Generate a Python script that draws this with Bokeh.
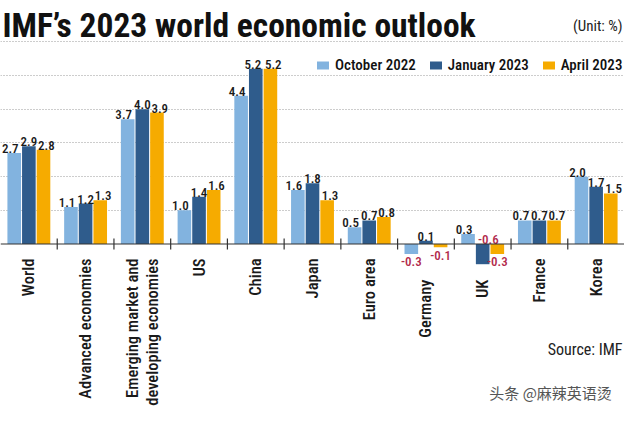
import numpy as np
from bokeh.plotting import figure
from bokeh.models import (Range1d, Grid, FixedTicker, ColumnDataSource, Label,
                          Legend, LegendItem, Span)
from bokeh.embed import file_html
from bokeh.resources import INLINE
from bokeh.core.properties import value

# ---------------- data ----------------
categories = ["World", "Advanced economies",
              "Emerging market and\ndeveloping economies", "US", "China",
              "Japan", "Euro area", "Germany", "UK", "France", "Korea"]
oct_2022 = [2.7, 1.1, 3.7, 1.0, 4.4, 1.6, 0.5, -0.3, 0.3, 0.7, 2.0]
jan_2023 = [2.9, 1.2, 4.0, 1.4, 5.2, 1.8, 0.7, 0.1, -0.6, 0.7, 1.7]
apr_2023 = [2.8, 1.3, 3.9, 1.6, 5.2, 1.3, 0.8, -0.1, -0.3, 0.7, 1.5]
series_names = ["October 2022", "January 2023", "April 2023"]
grid_ticks = [1, 2, 3, 4, 5, 6]

# ---------------- style ----------------
FONT = "Roboto Condensed, DejaVu Sans Condensed, Roboto, sans-serif"
FONT_MED = "Roboto Condensed Medium, Roboto Condensed, Roboto, sans-serif"
CJK = "Noto Sans CJK SC"
colors = ["#82b3df", "#2f5c8c", "#f6ab00"]
neg_color = "#b22a4c"
ink = "#1a1a1a"

W, H = 624, 410
REF_W, REF_H = 640, 426
BASE_PX, UNIT_PX = 253.0, 35.0

n = len(categories)


def fx(px):
    return px * n / REF_W


def fy(py):
    return (BASE_PX - py) / UNIT_PX


p = figure(width=W, height=H, x_range=Range1d(0, n),
           y_range=Range1d(fy(REF_H), fy(0)), title=None,
           x_axis_type=None, y_axis_type=None, toolbar_location=None,
           output_backend="svg", min_border=0, outline_line_color=None,
           background_fill_color="white", border_fill_color="white")

p.add_layout(Grid(dimension=1, ticker=FixedTicker(ticks=grid_ticks),
                  grid_line_color="#9a9a9a", grid_line_dash="1 2",
                  grid_line_width=1))

centers = np.arange(n) + 0.5
offsets = [-0.258, 0.0, 0.258]
label_shift = [-0.07, 0.0, 0.05]
# label nudges where neighbouring labels would collide: (category, series) -> dx
nudges = {("China", 1): -0.05}
series = [oct_2022, jan_2023, apr_2023]

renderers = []
lx, ly, lt, lc, lb = [], [], [], [], []
for si, (vals, off, sh, col) in enumerate(zip(series, offsets, label_shift, colors)):
    src = ColumnDataSource(dict(x=centers + off, top=vals))
    r = p.vbar(x="x", top="top", bottom=0, width=0.24, source=src,
               fill_color=col, line_color=None)
    renderers.append(r)
    for cat, c, v in zip(categories, centers, vals):
        if v >= 0:
            lx.append(c + off + sh + nudges.get((cat, si), 0.0))
            ly.append(v)
            lb.append("bottom")
            lc.append(ink)
        else:
            lx.append(c + off)
            ly.append(v - 0.1)
            lb.append("top")
            lc.append(neg_color)
        lt.append(f"{v:.1f}")

# UK January label sits above the axis, to the right of its bar
uk = categories.index("UK")
k = 1 * n + uk
lx[k] = centers[uk] + offsets[1] + 0.1
ly[k] = 0.0
lb[k] = "bottom"

for base in ["bottom", "top"]:
    idx = [i for i, b in enumerate(lb) if b == base]
    s = ColumnDataSource(dict(x=[lx[i] for i in idx], y=[ly[i] for i in idx],
                              text=[lt[i] for i in idx], color=[lc[i] for i in idx]))
    p.text(x="x", y="y", text="text", source=s, text_color="color",
           text_align="center", text_baseline=base,
           text_font=value(FONT_MED), text_font_size="13px")

# baseline and group separators
p.add_layout(Span(location=0, dimension="width", line_color="#333333",
                  line_width=1.2))
bounds = np.arange(1, n)
p.segment(x0=bounds, y0=0.16, x1=bounds, y1=-0.16, line_color="#333333",
          line_width=1.2)

# category labels (rotated)
label_y = [fy(290) if min(a, b, c) < 0 else fy(268)
           for a, b, c in zip(oct_2022, jan_2023, apr_2023)]
p.text(x=centers, y=label_y, text=categories, angle=np.pi / 2,
       text_align="right", text_baseline="middle", text_font=value(FONT_MED),
       text_font_size="16.5px", text_color=ink, text_line_height=1.05)

# title and notes
p.add_layout(Label(x=fx(2), y=fy(26), text="IMF\u2019s 2023 world economic outlook",
                   text_font=FONT, text_font_style="bold", text_font_size="33.5px",
                   text_color="#111111", text_baseline="alphabetic"))
p.add_layout(Label(x=fx(638), y=fy(26), text="(Unit: %)", text_font=FONT,
                   text_font_size="15px", text_color="#222222",
                   text_align="right", text_baseline="alphabetic"))
p.add_layout(Label(x=fx(638), y=fy(363), text="Source: IMF", text_font=FONT,
                   text_font_size="16px", text_color="#222222",
                   text_align="right", text_baseline="middle"))
p.add_layout(Label(x=fx(627), y=fy(407), text="头条 @麻辣英语烫", text_font=CJK,
                   text_font_size="15px", text_color="#555555",
                   text_align="right", text_baseline="middle"))

legend = Legend(items=[LegendItem(label=nm, renderers=[r])
                       for nm, r in zip(series_names, renderers)],
                orientation="horizontal", location=(315, 336),
                background_fill_alpha=0, border_line_color=None, padding=0,
                margin=0, spacing=12, glyph_width=15, glyph_height=10,
                label_standoff=5, label_height=18, label_text_font=FONT_MED,
                label_text_font_size="15px", label_text_color="#111111",
                label_text_baseline="middle")
p.add_layout(legend)

open("out.html", "w").write(file_html(p, INLINE))
